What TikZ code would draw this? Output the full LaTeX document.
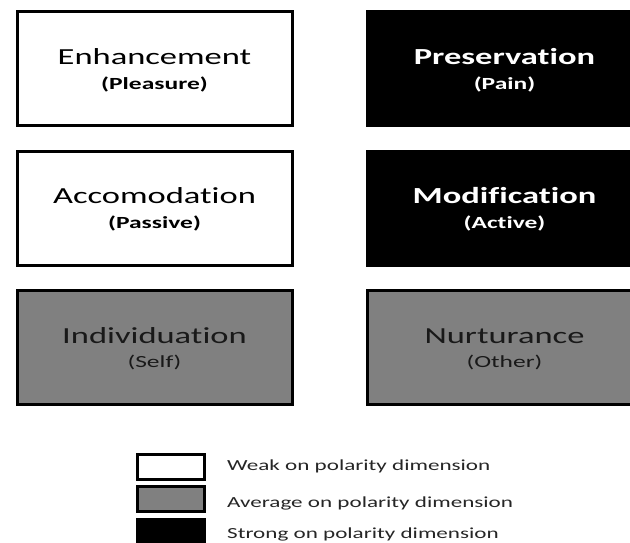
\documentclass[tikz,border=0pt]{standalone}
\usepackage{fontspec}
\setmainfont{Carlito}[Ligatures={NoCommon}]
\usepackage{graphicx}
\newcommand\stx[1]{\scalebox{1.5}[1]{#1}}
\definecolor{midgray}{RGB}{128,128,128}
\tikzset{
  cat/.style={draw=black, line width=3pt, minimum width=275pt, minimum height=114pt,
    inner sep=0pt, anchor=north west},
  weak/.style={cat, fill=white},
  avg/.style={cat, fill=midgray},
  strong/.style={cat, fill=black},
  ttl/.style={anchor=base, inner sep=0pt, font=\fontsize{23}{23}\selectfont},
  sub/.style={anchor=base, inner sep=0pt, font=\fontsize{17}{17}\selectfont},
  key/.style={draw=black, line width=3pt, minimum width=67pt, minimum height=25pt,
    inner sep=0pt, anchor=north west},
  keytxt/.style={anchor=west, inner sep=0pt, text=black!85, font=\fontsize{15.4}{15.4}\selectfont}
}
\begin{document}
\begin{tikzpicture}[x=1pt,y=-1pt]
\useasboundingbox (0,0) rectangle (630,543);
\clip (0,0) rectangle (630,543);
\fill[white] (0,0) rectangle (630,543);
\node[weak]   (enh) at (15.5,10.5)  {};
\node[strong] (pre) at (365.5,10.5) {};
\node[weak]   (acc) at (15.5,149.5) {};
\node[strong] (mod) at (365.5,149.5){};
\node[avg]    (ind) at (15.5,288.5) {};
\node[avg]    (nur) at (365.5,288.5){};
% titles
\node[ttl, text=black] (enh-t) at ([yshift=4pt]enh.center) {\stx{Enhancement}};
\node[sub, text=black, font=\fontsize{17}{17}\selectfont\bfseries] (enh-s) at ([yshift=-20.5pt]enh.center) {\stx{(Pleasure)}};
\node[ttl, text=white, font=\fontsize{23}{23}\selectfont\bfseries] (pre-t) at ([yshift=4pt]pre.center) {\stx{Preservation}};
\node[sub, text=white, font=\fontsize{17}{17}\selectfont\bfseries] (pre-s) at ([yshift=-20.5pt]pre.center) {\stx{(Pain)}};
\node[ttl, text=black] (acc-t) at ([yshift=4pt]acc.center) {\stx{Accomodation}};
\node[sub, text=black, font=\fontsize{17}{17}\selectfont\bfseries] (acc-s) at ([yshift=-20.5pt]acc.center) {\stx{(Passive)}};
\node[ttl, text=white, font=\fontsize{23}{23}\selectfont\bfseries] (mod-t) at ([yshift=4pt]mod.center) {\stx{Modification}};
\node[sub, text=white, font=\fontsize{17}{17}\selectfont\bfseries] (mod-s) at ([yshift=-20.5pt]mod.center) {\stx{(Active)}};
\node[ttl, text=black!90] (ind-t) at ([yshift=4pt]ind.center) {\stx{Individuation}};
\node[sub, text=black!90] (ind-s) at ([yshift=-20.5pt]ind.center) {\stx{(Self)}};
\node[ttl, text=black!90] (nur-t) at ([yshift=4pt]nur.center) {\stx{Nurturance}};
\node[sub, text=black!90] (nur-s) at ([yshift=-20.5pt]nur.center) {\stx{(Other)}};
% legend
\node[key, fill=white]   (kw) at (135.5,452.5) {};
\node[key, fill=midgray] (ka) at (135.5,484.5) {};
\node[key, fill=black]   (ks) at (135.5,517.5) {};
\node[keytxt] (tw) at (227,466) {\stx{Weak on polarity dimension}};
\node[keytxt] (ta) at (227,503) {\stx{Average on polarity dimension}};
\node[keytxt] (ts) at (227,534) {\stx{Strong on polarity dimension}};
\end{tikzpicture}
\end{document}
